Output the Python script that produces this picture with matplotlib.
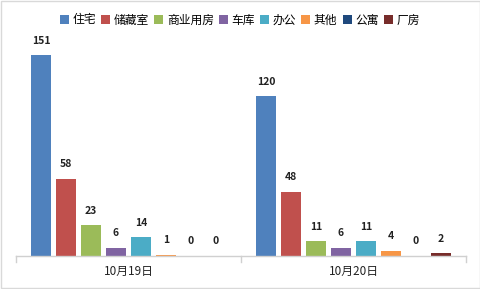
import numpy as np
import matplotlib

matplotlib.use("Agg")
import matplotlib.pyplot as plt
from matplotlib.patches import Rectangle

plt.rcParams["font.family"] = ["Noto Sans CJK SC", "DejaVu Sans"]

dates = ["10月19日", "10月20日"]
types = ["住宅", "储藏室", "商业用房", "车库", "办公", "其他", "公寓", "厂房"]
day1 = [151, 58, 23, 6, 14, 1, 0, 0]
day2 = [120, 48, 11, 6, 11, 4, 0, 2]
colors = ["#4F81BD", "#C0504D", "#9BBB59", "#8064A2",
          "#4BACC6", "#F79646", "#1F497D", "#772C2A"]

fig = plt.figure(figsize=(4.81, 2.89), dpi=100)
ax = fig.add_axes([16 / 481, 33 / 289, 450 / 481, 226 / 289])

pitch = 25 / 225
width = 20 / 225
values = np.array([day1, day2])
for i, (name, col) in enumerate(zip(types, colors)):
    x = np.arange(len(dates)) + 0.5 + (i - 3.5) * pitch
    ax.bar(x, values[:, i], width=width, color=col, label=name)
    for xi, v in zip(x, values[:, i]):
        ax.annotate(str(v), (xi, v), xytext=(0, 7), textcoords="offset points",
                    ha="center", va="bottom", fontsize=7.5, fontweight="bold",
                    color="#222222")

ax.set_xlim(0, 2)
ax.set_ylim(0, 170)
ax.set_yticks([])
ax.set_xticks([])
for s in ["top", "right", "left"]:
    ax.spines[s].set_visible(False)
ax.spines["bottom"].set_color("#D0D0D0")
ax.spines["bottom"].set_linewidth(1)

# category separators and labels
for xt in [0, 1, 2]:
    ax.plot([xt, xt], [0, -0.027], transform=ax.get_xaxis_transform(),
            color="#D0D0D0", lw=1, clip_on=False)
for k, d in enumerate(dates):
    ax.text(k + 0.5, -0.07, d, transform=ax.get_xaxis_transform(),
            ha="center", va="center", fontsize=8.5, color="#222222")

leg = ax.legend(loc="center", ncol=8, frameon=False, fontsize=8.5,
                handlelength=0.75, handleheight=0.75, handletextpad=0.3,
                columnspacing=0.45, borderaxespad=0,
                bbox_to_anchor=(240 / 481, 1 - 20 / 289),
                bbox_transform=fig.transFigure)

fig.patches.append(Rectangle((0.002, 0.003), 0.996, 0.994, transform=fig.transFigure,
                             fill=False, edgecolor="#D9D9D9", lw=1))

fig.savefig("out.png", dpi=100)
